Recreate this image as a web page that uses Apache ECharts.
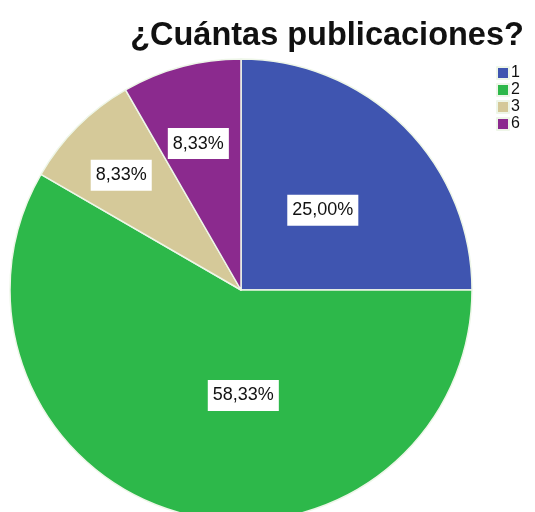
<!DOCTYPE html>
<html><head><meta charset="utf-8">
<script src="https://cdn.jsdelivr.net/npm/echarts@6/dist/echarts.min.js"></script>
<style>html,body{margin:0;padding:0;background:#fff}#c{width:535px;height:512px}</style>
</head><body><div id="c"></div>
<script>
const categories = ['1', '2', '3', '6'];
const values = [25.00, 58.33, 8.33, 8.33];
const labels = ['25,00%', '58,33%', '8,33%', '8,33%'];
const colors = ['#3f55b0', '#2db84a', '#d5c999', '#8b2a8e'];
const labelOffsets = [[-2, 4], [33, -9], [-36, -31], [-12, -32]];

const chart = echarts.init(document.getElementById('c'), null, {renderer: 'canvas'});
chart.setOption({
  animation: false,
  title: {
    text: '¿Cuántas publicaciones?', left: 322, top: 15, textAlign: 'center',
    textStyle: {fontFamily: 'Liberation Sans', fontWeight: 'bold', fontSize: 32.5, color: '#111'}
  },
  legend: {
    orient: 'vertical', left: 491, top: 60, itemWidth: 12, itemHeight: 12, itemGap: 1,
    icon: 'rect', data: categories,
    textStyle: {fontFamily: 'Liberation Sans', fontSize: 16, lineHeight: 14, color: '#111', padding: [0,0,0,-3]}
  },
  series: [{
    type: 'pie', center: [241, 290], radius: 231, startAngle: 90, clockwise: true,
    avoidLabelOverlap: false,
    itemStyle: {borderColor: '#eef6e8', borderWidth: 1.5},
    label: {
      position: 'inside', fontFamily: 'Liberation Sans', fontSize: 18, color: '#111',
      backgroundColor: '#fff', padding: [7, 5, 6, 5]
    },
    labelLine: {show: false},
    data: categories.map((c, i) => ({
      name: c, value: values[i],
      itemStyle: {color: colors[i]},
      label: {formatter: labels[i], offset: labelOffsets[i]}
    }))
  }]
});
</script></body></html>
